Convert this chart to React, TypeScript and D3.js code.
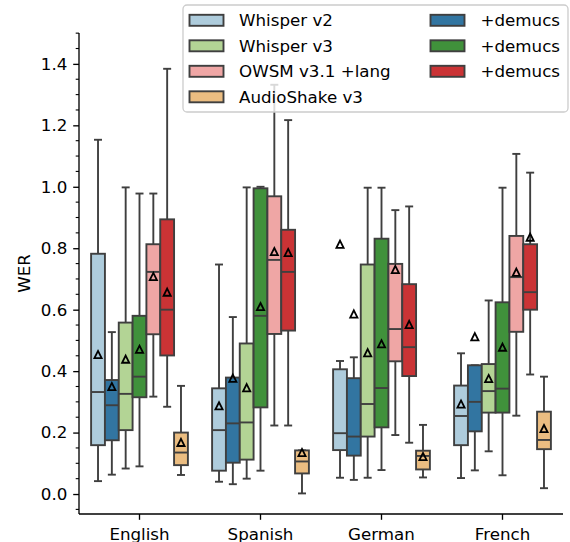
import React, { useEffect, useRef } from "react";
import * as d3 from "d3";

const categories = ["English", "Spanish", "German", "French"];

// each row: [whiskerLow, q1, median, q3, whiskerHigh, mean] for English, Spanish, German, French
const whisperV2 = [
  [0.042, 0.159, 0.332, 0.782, 1.153, 0.454],
  [0.040, 0.076, 0.208, 0.344, 0.747, 0.287],
  [0.053, 0.143, 0.198, 0.406, 0.433, 0.813],
  [0.052, 0.159, 0.254, 0.353, 0.458, 0.293],
];
const whisperV2Demucs = [
  [0.063, 0.175, 0.289, 0.371, 0.527, 0.350],
  [0.032, 0.102, 0.230, 0.379, 0.576, 0.377],
  [0.046, 0.125, 0.187, 0.377, 0.445, 0.586],
  [0.077, 0.204, 0.300, 0.419, 0.419, 0.512],
];
const whisperV3 = [
  [0.083, 0.208, 0.326, 0.558, 0.998, 0.439],
  [0.050, 0.112, 0.233, 0.490, 0.998, 0.346],
  [0.053, 0.187, 0.293, 0.747, 0.997, 0.460],
  [0.139, 0.265, 0.335, 0.423, 0.630, 0.376],
];
const whisperV3Demucs = [
  [0.090, 0.315, 0.382, 0.580, 0.978, 0.471],
  [0.076, 0.282, 0.580, 0.995, 1.000, 0.610],
  [0.078, 0.217, 0.345, 0.831, 0.997, 0.489],
  [0.061, 0.265, 0.343, 0.624, 0.997, 0.478],
];
const owsm = [
  [0.317, 0.520, 0.723, 0.813, 0.978, 0.708],
  [0.223, 0.521, 0.762, 0.969, 1.332, 0.789],
  [0.192, 0.432, 0.537, 0.749, 0.924, 0.731],
  [0.255, 0.528, 0.706, 0.840, 1.107, 0.722],
];
const owsmDemucs = [
  [0.284, 0.451, 0.600, 0.894, 1.384, 0.657],
  [0.223, 0.532, 0.723, 0.860, 1.217, 0.786],
  [0.167, 0.384, 0.478, 0.683, 0.936, 0.552],
  [0.389, 0.600, 0.657, 0.813, 1.046, 0.836],
];
const audioShake = [
  [0.062, 0.094, 0.135, 0.200, 0.352, 0.168],
  [0.002, 0.067, 0.106, 0.142, 0.142, 0.135],
  [0.054, 0.080, 0.124, 0.141, 0.225, 0.122],
  [0.019, 0.146, 0.176, 0.268, 0.382, 0.213],
];

const seriesNames = ["Whisper v2", "+demucs (v2)", "Whisper v3", "+demucs (v3)", "OWSM v3.1 +lang", "+demucs (owsm)", "AudioShake v3"];
const seriesData = [whisperV2, whisperV2Demucs, whisperV3, whisperV3Demucs, owsm, owsmDemucs, audioShake];
const seriesColors = ["#aeccdc", "#3275a1", "#b3d495", "#40913b", "#efa6a5", "#ca3335", "#ebbd81"];

const legendCol1 = ["Whisper v2", "Whisper v3", "OWSM v3.1 +lang", "AudioShake v3"];
const legendCol1Colors = ["#aeccdc", "#b3d495", "#efa6a5", "#ebbd81"];
const legendCol2 = ["+demucs", "+demucs", "+demucs"];
const legendCol2Colors = ["#3275a1", "#40913b", "#ca3335"];

const yTicks = [0, 0.2, 0.4, 0.6, 0.8, 1.0, 1.2, 1.4];

export default function App() {
  const ref = useRef<SVGSVGElement>(null);

  useEffect(() => {
    const svg = d3.select(ref.current);
    svg.selectAll("*").remove();
    const font = "DejaVu Sans, sans-serif";
    const fs = 16.7;
    const left = 79, right = 563, top = 33, bottom = 514;
    const edge = "#3f3f3f";

    const x = d3.scaleBand<string>().domain(categories).range([left, right]).padding(0);
    const step = x.bandwidth();
    const hue = d3.scaleBand<string>().domain(seriesNames).range([-0.4 * step, 0.4 * step]).padding(0);
    const bw = hue.bandwidth();
    const y = d3.scaleLinear().domain([-0.065, 1.5005]).range([bottom, top]);

    const g = svg.append("g");

    // boxes
    seriesData.forEach((rows, si) => {
      rows.forEach((r, ci) => {
        const [lo, q1, med, q3, hi, mean] = r;
        const cx = x(categories[ci])! + step / 2 + hue(seriesNames[si])! + bw / 2;
        const x0 = cx - bw / 2;
        const gg = g.append("g");
        const capW = 8;
        gg.append("line").attr("x1", cx).attr("x2", cx).attr("y1", y(q3)).attr("y2", y(hi)).attr("stroke", edge).attr("stroke-width", 1.9);
        gg.append("line").attr("x1", cx).attr("x2", cx).attr("y1", y(q1)).attr("y2", y(lo)).attr("stroke", edge).attr("stroke-width", 1.9);
        gg.append("line").attr("x1", cx - capW / 2).attr("x2", cx + capW / 2).attr("y1", y(hi)).attr("y2", y(hi)).attr("stroke", edge).attr("stroke-width", 1.9);
        gg.append("line").attr("x1", cx - capW / 2).attr("x2", cx + capW / 2).attr("y1", y(lo)).attr("y2", y(lo)).attr("stroke", edge).attr("stroke-width", 1.9);
        gg.append("rect").attr("x", x0).attr("y", y(q3)).attr("width", bw).attr("height", y(q1) - y(q3))
          .attr("fill", seriesColors[si]).attr("stroke", edge).attr("stroke-width", 1.9);
        gg.append("line").attr("x1", x0).attr("x2", x0 + bw).attr("y1", y(med)).attr("y2", y(med)).attr("stroke", edge).attr("stroke-width", 1.9);
        const my = y(mean);
        const s = 3.6;
        gg.append("path")
          .attr("d", `M${cx},${my - s} L${cx + s},${my + s} L${cx - s},${my + s} Z`)
          .attr("fill", "none").attr("stroke", "#000").attr("stroke-width", 1.8).attr("stroke-linejoin", "miter");
      });
    });

    // y axis
    const yAxis = g.append("g").attr("transform", `translate(${left},0)`);
    yAxis.call(d3.axisLeft(y).tickValues(yTicks).tickFormat(d3.format(".1f")).tickSize(5.8).tickPadding(5.8) as any);
    const minor = d3.range(-0.05, 1.5001, 0.05).filter(v => yTicks.every(t => Math.abs(t - v) > 1e-6));
    minor.forEach(v => {
      yAxis.append("line").attr("x1", 0).attr("x2", -3.3).attr("y1", y(v)).attr("y2", y(v)).attr("stroke", "#000").attr("stroke-width", 1.1);
    });
    yAxis.select(".domain").attr("d", `M0,${top}V${bottom}`).attr("stroke-width", 1.33);
    yAxis.selectAll(".tick line").attr("stroke-width", 1.33);
    yAxis.selectAll("text").attr("font-family", font).attr("font-size", fs).attr("fill", "#000");

    // x axis
    const xAxis = g.append("g").attr("transform", `translate(0,${bottom})`);
    xAxis.call(d3.axisBottom(x).tickSize(5.8).tickPadding(8) as any);
    xAxis.select(".domain").attr("d", `M${left},0H${right}`).attr("stroke-width", 1.33);
    xAxis.selectAll(".tick line").attr("stroke-width", 1.33);
    xAxis.selectAll("text").attr("font-family", font).attr("font-size", fs).attr("fill", "#000");

    // y label
    g.append("text").attr("transform", `translate(24,${(top + bottom) / 2}) rotate(-90)`)
      .attr("text-anchor", "middle").attr("dy", "0.36em")
      .attr("font-family", font).attr("font-size", fs).text("WER");

    // legend
    const lg = g.append("g");
    lg.append("rect").attr("x", 183).attr("y", 5).attr("width", 385).attr("height", 107).attr("rx", 4)
      .attr("fill", "#fff").attr("fill-opacity", 0.8).attr("stroke", "#cccccc").attr("stroke-width", 1.3);
    const rowY = (i: number) => 20.3 + i * 25.5;
    legendCol1.forEach((name, i) => {
      lg.append("rect").attr("x", 189.5).attr("y", rowY(i) - 5.5).attr("width", 34).attr("height", 11)
        .attr("fill", legendCol1Colors[i]).attr("stroke", edge).attr("stroke-width", 1.9);
      lg.append("text").attr("x", 239).attr("y", rowY(i)).attr("dy", "0.36em")
        .attr("font-family", font).attr("font-size", fs).text(name);
    });
    legendCol2.forEach((name, i) => {
      lg.append("rect").attr("x", 430.5).attr("y", rowY(i) - 5.5).attr("width", 34).attr("height", 11)
        .attr("fill", legendCol2Colors[i]).attr("stroke", edge).attr("stroke-width", 1.9);
      lg.append("text").attr("x", 480.5).attr("y", rowY(i)).attr("dy", "0.36em")
        .attr("font-family", font).attr("font-size", fs).text(name);
    });
  }, []);

  return <svg ref={ref} width={570} height={542} style={{ position: "absolute", left: 0, top: 0 }} />;
}
